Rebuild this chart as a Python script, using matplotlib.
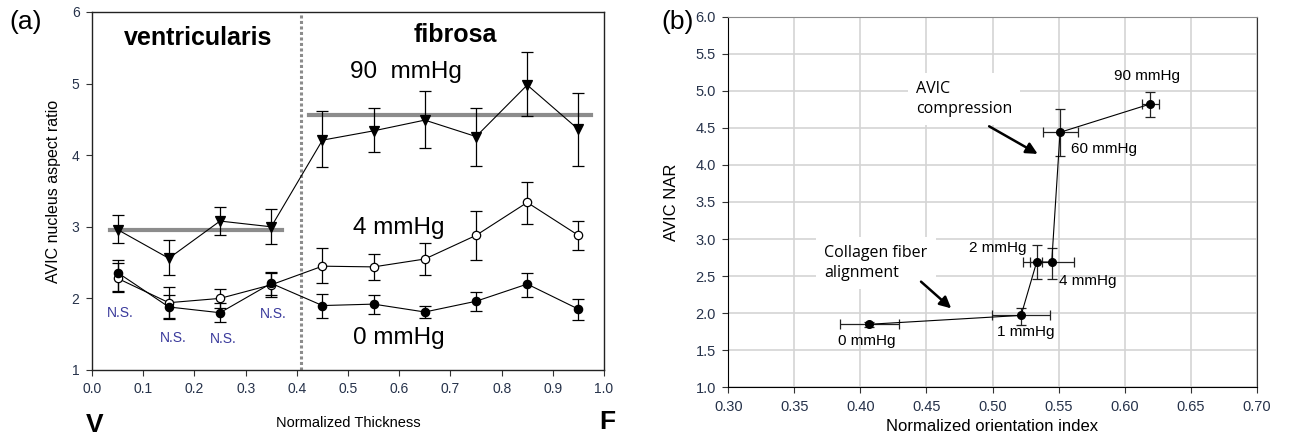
import numpy as np
import matplotlib
matplotlib.use("Agg")
import matplotlib.pyplot as plt

plt.rcParams["font.family"] = ["Liberation Sans", "DejaVu Sans"]

# Panel (a): nucleus aspect ratio across normalized thickness
thickness = [0.05, 0.15, 0.25, 0.35, 0.45, 0.55, 0.65, 0.75, 0.85, 0.95]

nar_90 = [2.96, 2.56, 3.08, 3.00, 4.21, 4.34, 4.49, 4.26, 4.98, 4.36]
nar_90_lo = [2.77, 2.33, 2.89, 2.76, 3.84, 4.04, 4.10, 3.85, 4.55, 3.85]
nar_90_hi = [3.16, 2.82, 3.28, 3.25, 4.62, 4.66, 4.89, 4.66, 5.44, 4.87]

nar_4 = [2.28, 1.94, 2.00, 2.19, 2.45, 2.44, 2.55, 2.88, 3.34, 2.88]
nar_4_lo = [2.10, 1.72, 1.87, 2.02, 2.21, 2.26, 2.33, 2.53, 3.04, 2.68]
nar_4_hi = [2.53, 2.16, 2.13, 2.35, 2.70, 2.62, 2.77, 3.22, 3.62, 3.08]

nar_0 = [2.36, 1.88, 1.80, 2.21, 1.90, 1.92, 1.81, 1.96, 2.20, 1.85]
nar_0_lo = [2.09, 1.71, 1.67, 2.05, 1.73, 1.78, 1.72, 1.82, 2.02, 1.70]
nar_0_hi = [2.49, 2.05, 1.94, 2.37, 2.06, 2.05, 1.89, 2.09, 2.36, 1.99]

ventricularis_mean = 2.95
fibrosa_mean = 4.56
layer_boundary = 0.408

ns_x = [0.056, 0.158, 0.256, 0.354]
ns_y = [1.80, 1.45, 1.43, 1.78]

# Panel (b): NAR vs normalized orientation index
pressures = ["0 mmHg", "1 mmHg", "2 mmHg", "4 mmHg", "60 mmHg", "90 mmHg"]
noi = [0.4067, 0.5216, 0.5334, 0.5448, 0.5511, 0.6190]
noi_err_lo = [0.0222, 0.0220, 0.0105, 0.0168, 0.0131, 0.0061]
noi_err_hi = [0.0223, 0.0219, 0.0038, 0.0171, 0.0139, 0.0070]
avic_nar = [1.85, 1.97, 2.69, 2.69, 4.44, 4.82]
avic_nar_err_lo = [0.03, 0.13, 0.23, 0.23, 0.32, 0.17]
avic_nar_err_hi = [0.03, 0.10, 0.23, 0.19, 0.31, 0.17]

label_x = [0.405, 0.525, 0.504, 0.572, 0.584, 0.617]
label_y = [1.63, 1.74, 2.88, 2.43, 4.21, 5.20]

tick_color = "#26324a"

fig = plt.figure(figsize=(12.89, 4.42), dpi=100)

# ---------------- (a) ----------------
ax1 = fig.add_axes([0.0714, 0.1629, 0.3972, 0.81])

ax1.plot([0.035, 0.372], [ventricularis_mean] * 2, color="#8c8c8c", lw=3, zorder=1)
ax1.plot([0.423, 0.975], [fibrosa_mean] * 2, color="#8c8c8c", lw=3, zorder=1)
ax1.axvline(layer_boundary, color="#8c8c8c", lw=2.2, ls=(0, (1, 0.8)), zorder=1)

def series(y, lo, hi, marker, face, ms):
    y = np.array(y)
    err = [y - np.array(lo), np.array(hi) - y]
    ax1.errorbar(thickness, y, yerr=err, fmt="none", ecolor="black",
                 elinewidth=0.9, capsize=4.5, capthick=0.9, zorder=2)
    ax1.plot(thickness, y, color="black", lw=0.8, marker=marker, ms=ms,
             mfc=face, mec="black", mew=0.9, zorder=3)

series(nar_90, nar_90_lo, nar_90_hi, "v", "black", 6.5)
series(nar_4, nar_4_lo, nar_4_hi, "o", "white", 6)
series(nar_0, nar_0_lo, nar_0_hi, "o", "black", 6)

ax1.set_xlim(0, 1)
ax1.set_ylim(1, 6)
ax1.set_xticks(np.arange(0, 1.01, 0.1))
ax1.set_xticklabels([f"{v:.1f}" for v in np.arange(0, 1.01, 0.1)])
ax1.set_yticks([1, 2, 3, 4, 5, 6])
ax1.tick_params(direction="out", length=4, labelsize=10, color="#333333",
                labelcolor=tick_color, pad=5)
for s in ax1.spines.values():
    s.set_linewidth(1.0)
    s.set_color("#222222")

ax1.set_xlabel("Normalized Thickness", fontsize=10.5, labelpad=14)
ax1.set_ylabel("AVIC nucleus aspect ratio", fontsize=11.5, labelpad=8)

ax1.text(0.207, 5.64, "ventricularis", fontsize=18, fontweight="bold",
         ha="center", va="center")
ax1.text(0.709, 5.68, "fibrosa", fontsize=18, fontweight="bold",
         ha="center", va="center")
ax1.text(0.613, 5.16, "90  mmHg", fontsize=17.5, ha="center", va="center")
ax1.text(0.600, 2.98, "4 mmHg", fontsize=17.5, ha="center", va="center")
ax1.text(0.600, 1.45, "0 mmHg", fontsize=17.5, ha="center", va="center")
for x, y in zip(ns_x, ns_y):
    ax1.text(x, y, "N.S.", fontsize=10, color="#3b3b9c", ha="center",
             va="center")

fig.text(0.007, 0.95, "(a)", fontsize=19, ha="left", va="center")
fig.text(0.0737, 0.038, "V", fontsize=19, fontweight="bold", ha="center",
         va="center")
fig.text(0.471, 0.045, "F", fontsize=19, fontweight="bold", ha="center",
         va="center")

# ---------------- (b) ----------------
ax2 = fig.add_axes([0.565, 0.1238, 0.41, 0.8384])

ax2.set_xlim(0.30, 0.70)
ax2.set_ylim(1.0, 6.0)
ax2.set_xticks(np.arange(0.30, 0.701, 0.05))
ax2.set_xticklabels([f"{v:.2f}" for v in np.arange(0.30, 0.701, 0.05)])
ax2.set_yticks(np.arange(1.0, 6.01, 0.5))
ax2.set_yticklabels([f"{v:.1f}" for v in np.arange(1.0, 6.01, 0.5)])
ax2.grid(True, color="#d4d4d4", lw=1.2, zorder=0)
ax2.set_axisbelow(True)
ax2.tick_params(direction="out", length=4, labelsize=10.5, color="#333333",
                labelcolor=tick_color, pad=5)
ax2.spines["left"].set_color("black")
ax2.spines["bottom"].set_color("black")
ax2.spines["top"].set_color("#8a8a8a")
ax2.spines["right"].set_color("#333333")

ax2.errorbar(noi, avic_nar, xerr=[noi_err_lo, noi_err_hi],
             yerr=[avic_nar_err_lo, avic_nar_err_hi], fmt="none",
             ecolor="#222222", elinewidth=0.9, capsize=3.5, capthick=0.9,
             zorder=2)
ax2.plot(noi, avic_nar, color="black", lw=0.8, marker="o", ms=5.5,
         mfc="black", mec="black", zorder=3)

for name, x, y in zip(pressures, label_x, label_y):
    ax2.text(x, y, name, fontsize=11, ha="center", va="center", zorder=4)

note_font = ["Open Sans", "DejaVu Sans"]
ax2.text(0.442, 4.89, "AVIC\ncompression", fontsize=11.5, family=note_font,
         ha="left", va="center", linespacing=1.3, zorder=4,
         bbox=dict(facecolor="white", edgecolor="none", pad=6))
ax2.text(0.3727, 2.68, "Collagen fiber\nalignment", fontsize=11.5,
         family=note_font, ha="left", va="center", linespacing=1.3, zorder=4,
         bbox=dict(facecolor="white", edgecolor="none", pad=6))

arrow = dict(arrowstyle="-|>", color="black", lw=1.8, mutation_scale=17)
ax2.annotate("", xy=(0.536, 4.13), xytext=(0.4956, 4.54), arrowprops=arrow,
             zorder=5)
ax2.annotate("", xy=(0.4703, 2.04), xytext=(0.4443, 2.45), arrowprops=arrow,
             zorder=5)

ax2.set_xlabel("Normalized orientation index", fontsize=12, labelpad=4)
ax2.set_ylabel("AVIC NAR", fontsize=12, labelpad=12)

fig.text(0.513, 0.95, "(b)", fontsize=19, ha="left", va="center")

fig.savefig("out.png", dpi=100)
